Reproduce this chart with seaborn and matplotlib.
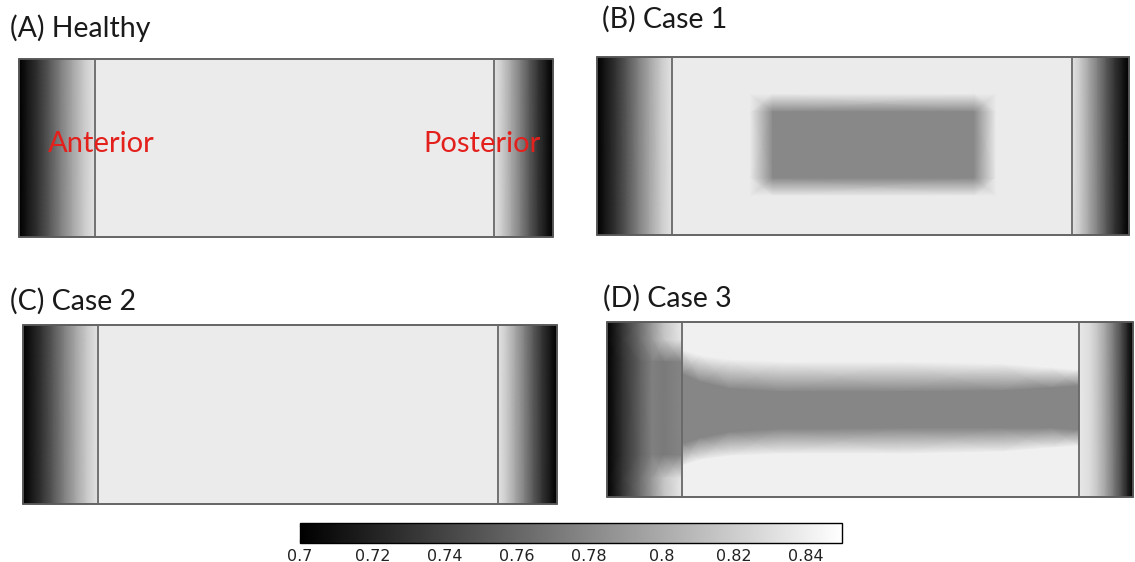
import numpy as np
import matplotlib.pyplot as plt
import matplotlib as mpl
import seaborn as sns

sns.set_theme(style='white')
plt.rcParams['font.family'] = ['Lato', 'DejaVu Sans']

# Colour scale (grey map, 0.70 -> 0.85)
vmin, vmax = 0.70, 0.85
cbar_ticks = [0.70, 0.72, 0.74, 0.76, 0.78, 0.80, 0.82, 0.84]
cbar_labels = ['0.7', '0.72', '0.74', '0.76', '0.78', '0.8', '0.82', '0.84']

# Bulk value away from the surfaces
plateau = 0.838
plateau_d = 0.841

# Ramp across an end region: 0 = outer surface, 1 = interface line
edge_frac = [0.0, 0.1, 0.25, 0.4, 0.55, 0.7, 0.85, 1.0]
edge_val = [0.700, 0.712, 0.730, 0.752, 0.775, 0.797, 0.818, 0.834]

# Case 1: central lesion (pixel grid of panel B)
lesion_x = [672, 750, 773, 974, 996, 1072]
lesion_y = [57, 94, 112, 178, 196, 235]
lesion_val = 0.780

# Case 3: axial band through the middle (panel D)
band_x = [682, 700, 730, 780, 900, 1000, 1050, 1079]
band_outer_top = [350, 356, 360, 362, 362, 364, 368, 370]
band_inner_top = [374, 382, 389, 392, 392, 391, 388, 386]
band_inner_bot = [444, 438, 432, 429, 428, 428, 428, 430]
band_outer_bot = [466, 460, 456, 454, 454, 452, 448, 446]
band_val = 0.779

# Case 3: left end region
d_left_x = [607, 622, 640, 652, 664, 682]
d_left_y = [322, 340, 362, 455, 478, 497]
d_left_outer = [0.700, 0.730, 0.765, 0.790, 0.815, 0.836]
d_left_inner = [0.700, 0.728, 0.757, 0.775, 0.772, 0.778]
# Case 3: right end region (from interface to surface)
d_right_frac = [0.0, 0.2, 0.35, 0.5, 0.65, 0.8, 0.9, 1.0]
d_right_val = [0.836, 0.830, 0.815, 0.795, 0.770, 0.742, 0.720, 0.700]

panels = {
    'A': dict(title='(A) Healthy', x0=19, x1=553, y0=59, y1=237, l=95, r=494, tx=10, ty=37),
    'B': dict(title='(B) Case 1', x0=597, x1=1129, y0=57, y1=235, l=672, r=1072, tx=602, ty=28),
    'C': dict(title='(C) Case 2', x0=23, x1=557, y0=325, y1=504, l=98, r=498, tx=10, ty=310),
    'D': dict(title='(D) Case 3', x0=607, x1=1133, y0=322, y1=497, l=682, r=1079, tx=603, ty=307),
}

W, H = 1135, 562
fig = plt.figure(figsize=(W / 100, H / 100), dpi=100)
ax = fig.add_axes([0, 0, 1, 1])
ax.set_xlim(0, W)
ax.set_ylim(H, 0)
ax.axis('off')

cmap = mpl.colormaps['gray']
kw = dict(cmap=cmap, vmin=vmin, vmax=vmax, shading='gouraud', rasterized=True)
frac = np.array(edge_frac)
ev = np.array(edge_val)

for key, p in panels.items():
    ys = [p['y0'], p['y1']]
    # left end
    if key == 'D':
        C = np.array([d_left_outer, d_left_outer, d_left_inner,
                      d_left_inner, d_left_outer, d_left_outer])
        ax.pcolormesh(d_left_x, d_left_y, C, **kw)
    else:
        xs = p['x0'] + frac * (p['l'] - p['x0'])
        ax.pcolormesh(xs, ys, np.vstack([ev, ev]), **kw)
    # right end
    if key == 'D':
        xs = p['r'] + np.array(d_right_frac) * (p['x1'] - p['r'])
        rv = np.array(d_right_val)
        ax.pcolormesh(xs, ys, np.vstack([rv, rv]), **kw)
    else:
        xs = p['x1'] - frac[::-1] * (p['x1'] - p['r'])
        rv = ev[::-1]
        ax.pcolormesh(xs, ys, np.vstack([rv, rv]), **kw)
    # middle
    if key == 'B':
        C = np.full((len(lesion_y), len(lesion_x)), plateau)
        C[2:4, 2:4] = lesion_val
        ax.pcolormesh(lesion_x, lesion_y, C, **kw)
    elif key == 'D':
        n = len(band_x)
        X = np.tile(band_x, (6, 1))
        Y = np.vstack([np.full(n, p['y0']), band_outer_top, band_inner_top,
                       band_inner_bot, band_outer_bot, np.full(n, p['y1'])])
        C = np.vstack([np.full(n, plateau_d), np.full(n, plateau_d), np.full(n, band_val),
                       np.full(n, band_val), np.full(n, plateau_d), np.full(n, plateau_d)])
        ax.pcolormesh(X, Y, C, **kw)
    else:
        ax.pcolormesh([p['l'], p['r']], ys, np.full((2, 2), plateau), **kw)

    # outlines and interfaces
    ax.add_patch(plt.Rectangle((p['x0'], p['y0']), p['x1'] - p['x0'], p['y1'] - p['y0'],
                               fill=False, ec='#5a5a5a', lw=1.3))
    ax.plot([p['l'], p['l']], ys, color='#686868', lw=1.3)
    ax.plot([p['r'], p['r']], ys, color='#686868', lw=1.3)
    ax.text(p['tx'], p['ty'], p['title'], fontsize=20.5, color='#1a1a1a', va='baseline', ha='left')

ax.text(48, 152, 'Anterior', fontsize=21, color='#e3201c', va='baseline', ha='left')
ax.text(423, 152, 'Posterior', fontsize=21, color='#e3201c', va='baseline', ha='left')

# colour bar
cax = fig.add_axes([300 / W, (H - 543) / H, 542 / W, 20 / H])
sm = mpl.cm.ScalarMappable(norm=mpl.colors.Normalize(vmin, vmax), cmap=cmap)
cb = fig.colorbar(sm, cax=cax, orientation='horizontal', ticks=cbar_ticks)
cb.set_ticklabels(cbar_labels)
cb.outline.set_linewidth(1.0)
cb.outline.set_edgecolor('black')
cax.tick_params(axis='x', direction='in', top=True, bottom=True, length=3, width=0.8,
                color='black', labelsize=11.5, pad=4)
for t in cax.get_xticklabels():
    t.set_family('DejaVu Sans')
    t.set_color('#222222')

fig.savefig('out.png', dpi=100)
